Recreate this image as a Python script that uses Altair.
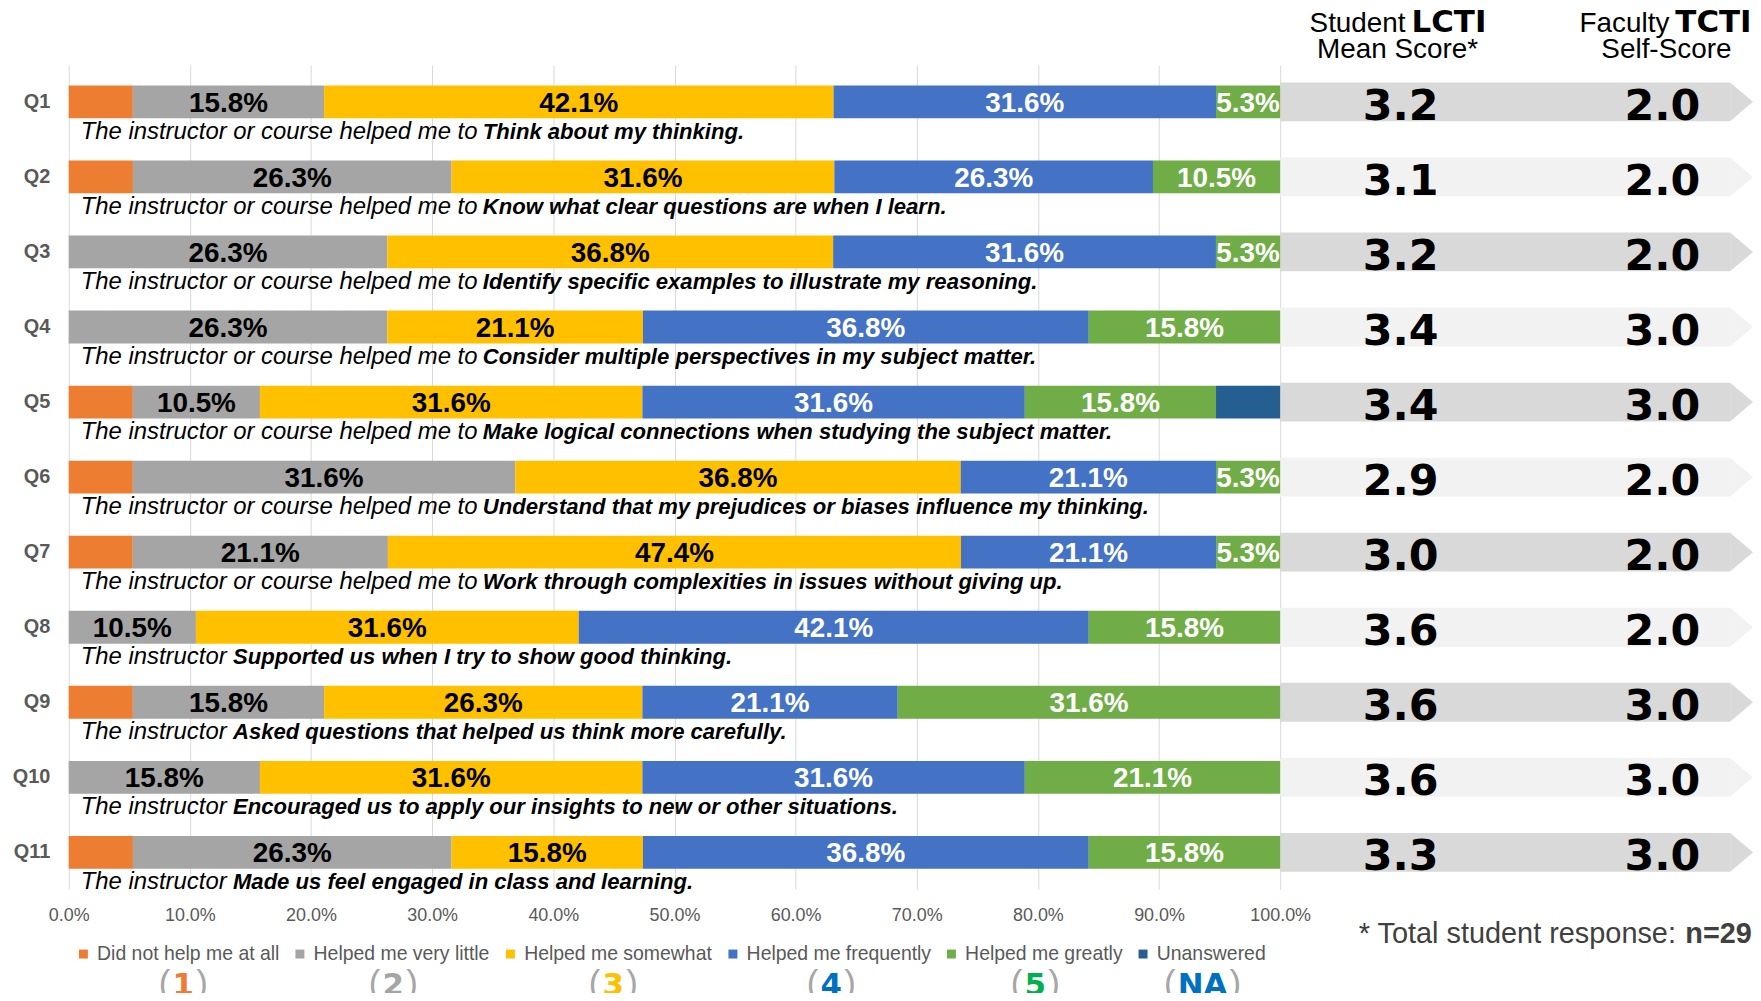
import altair as alt
import pandas as pd

# ---------------- data ----------------
questions = [f"Q{i}" for i in range(1, 12)]
categories = ["Did not help me at all", "Helped me very little", "Helped me somewhat",
              "Helped me frequently", "Helped me greatly", "Unanswered"]
colors = ["#ED7D31", "#A5A5A5", "#FFC000", "#4472C4", "#70AD47", "#255E91"]

did_not_help = [5.3, 5.3, 0, 0, 5.3, 5.3, 5.3, 0, 5.3, 0, 5.3]
very_little = [15.8, 26.3, 26.3, 26.3, 10.5, 31.6, 21.1, 10.5, 15.8, 15.8, 26.3]
somewhat = [42.1, 31.6, 36.8, 21.1, 31.6, 36.8, 47.4, 31.6, 26.3, 31.6, 15.8]
frequently = [31.6, 26.3, 31.6, 36.8, 31.6, 21.1, 21.1, 42.1, 21.1, 31.6, 36.8]
greatly = [5.3, 10.5, 5.3, 15.8, 15.8, 5.3, 5.3, 15.8, 31.6, 21.1, 15.8]
unanswered = [0, 0, 0, 0, 5.3, 0, 0, 0, 0, 0, 0]

lcti = [3.2, 3.1, 3.2, 3.4, 3.4, 2.9, 3.0, 3.6, 3.6, 3.6, 3.3]
tcti = [2.0, 2.0, 2.0, 3.0, 3.0, 2.0, 2.0, 2.0, 3.0, 3.0, 3.0]

prefix_long = "The instructor or course helped me to "
prefix_short = "The instructor "
prefixes = [prefix_long] * 7 + [prefix_short] * 4
phrases = [
    "Think about my thinking.",
    "Know what clear questions are when I learn.",
    "Identify specific examples to illustrate my reasoning.",
    "Consider multiple perspectives in my subject matter.",
    "Make logical connections when studying the subject matter.",
    "Understand that my prejudices or biases influence my thinking.",
    "Work through complexities in issues without giving up.",
    "Supported us when I try to show good thinking.",
    "Asked questions that helped us think more carefully.",
    "Encouraged us to apply our insights to new or other situations.",
    "Made us feel engaged in class and learning.",
]

scale_nums = ["1", "2", "3", "4", "5", "NA"]
scale_num_colors = ["#ED7D31", "#A5A5A5", "#FFC000", "#0070C0", "#00B050", "#0070C0"]

series = [did_not_help, very_little, somewhat, frequently, greatly, unanswered]
rows = []
for i, q in enumerate(questions):
    for j, cat in enumerate(categories):
        v = series[j][i]
        rows.append({"q": q, "cat": cat, "order": j, "pct": v, "label": f"{v:.1f}%"})
df = pd.DataFrame(rows)

qdf = pd.DataFrame({
    "q": questions, "idx": list(range(len(questions))), "lcti": lcti, "tcti": tcti,
    "prefix": prefixes, "phrase": phrases,
    "kind": ["long" if p == prefix_long else "short" for p in prefixes],
})

# ---------------- layout ----------------
UNIT = 1217          # px for 100 %
W = 1692             # plot width (incl. the score panel)
H = 828
D = W / UNIT

FONT = "Liberation Sans"
GRAY_TXT = "#595959"

y_enc = alt.Y("q:N", sort=questions,
              scale=alt.Scale(domain=questions, paddingInner=0.5623, paddingOuter=0.272),
              axis=alt.Axis(title=None, domain=False, ticks=False, labelFontSize=20,
                            labelFontWeight="bold", labelColor=GRAY_TXT, labelFont=FONT,
                            labelPadding=19))

base = alt.Chart(df).transform_stack(
    stack="pct", groupby=["q"], as_=["x0", "x1"], offset="normalize",
    sort=[alt.SortField("order", order="ascending")]
).transform_calculate(mid="(datum.x0 + datum.x1) / 2")

bars = base.mark_bar().encode(
    y=y_enc,
    x=alt.X("x0:Q", scale=alt.Scale(domain=[0, D], nice=False, zero=True),
            axis=alt.Axis(values=[i / 10 for i in range(11)], format=".1%", title=None,
                          grid=True, gridColor="#D9D9D9", domain=False, ticks=False,
                          labelFontSize=18, labelColor=GRAY_TXT, labelFont=FONT,
                          labelPadding=17, labelFlush=False)),
    x2="x1:Q",
    color=alt.Color("cat:N", scale=alt.Scale(domain=categories, range=colors),
                    legend=alt.Legend(orient="none", legendX=5, legendY=883,
                                      direction="horizontal", title=None,
                                      symbolType="square", symbolSize=81,
                                      symbolStrokeWidth=0, labelFontSize=19.5,
                                      labelColor=GRAY_TXT, labelFont=FONT,
                                      columnPadding=10.5, labelOffset=4, padding=0,
                                      labelLimit=400)),
)

lbl_style = dict(font=FONT, fontWeight="bold", fontSize=28, baseline="middle", dy=2)
dark_lbl = base.transform_filter(
    alt.FieldOneOfPredicate(field="cat", oneOf=["Helped me very little", "Helped me somewhat"])
).transform_filter("datum.pct > 0").mark_text(color="black", **lbl_style).encode(
    y="q:N", x="mid:Q", text="label:N")
light_lbl = base.transform_filter(
    alt.FieldOneOfPredicate(field="cat", oneOf=["Helped me frequently", "Helped me greatly"])
).transform_filter("datum.pct > 0").mark_text(color="white", **lbl_style).encode(
    y="q:N", x="mid:Q", text="label:N")

qbase = alt.Chart(qdf)
shade = alt.condition("datum.idx % 2 == 0", alt.value("#D9D9D9"), alt.value("#F2F2F2"))
arrow_body = qbase.mark_bar(size=39).encode(
    y="q:N", x=alt.value(UNIT), x2=alt.value(1669), color=shade)
arrow_tip = qbase.mark_point(shape="M-0.59,-1L0.59,0L-0.59,1Z", size=1521, filled=True,
                             opacity=1, strokeWidth=0).encode(
    y="q:N", x=alt.value(1680.5), color=shade)

score_style = dict(font="DejaVu Sans", fontWeight="bold", fontSize=43,
                   baseline="alphabetic", dy=18, align="center", color="black")
lcti_txt = qbase.mark_text(**score_style).encode(
    y="q:N", x=alt.value(1338), text=alt.Text("lcti:Q", format=".1f"))
tcti_txt = qbase.mark_text(**score_style).encode(
    y="q:N", x=alt.value(1601), text=alt.Text("tcti:Q", format=".1f"))

sent_style = dict(font=FONT, fontStyle="italic", fontSize=24, baseline="alphabetic",
                  dy=37, align="left", color="black")
bold_style = dict(sent_style, fontSize=22.2, fontWeight="bold")
prefix_txt = qbase.mark_text(**sent_style).encode(
    y="q:N", x=alt.value(12), text="prefix:N")
phrase_long = qbase.transform_filter("datum.kind == 'long'").mark_text(
    **bold_style).encode(y="q:N", x=alt.value(12 + 404), text="phrase:N")
phrase_short = qbase.transform_filter("datum.kind == 'short'").mark_text(
    **bold_style).encode(y="q:N", x=alt.value(12 + 153), text="phrase:N")


def label(text, x, y, **style):
    return alt.Chart(pd.DataFrame({"t": [text]})).mark_text(**style).encode(
        x=alt.value(x), y=alt.value(y), text="t:N")


hdr = dict(font=FONT, fontSize=28, baseline="alphabetic", color="black")
hdr_bold = dict(font="DejaVu Sans", fontWeight="bold", fontSize=31,
                baseline="alphabetic", color="black")
annos = [
    label("Student", 1343, -33, align="right", **hdr),
    label("LCTI", 1349, -33, align="left", **hdr_bold),
    label("Mean Score*", 1335, -7, align="center", **hdr),
    label("Faculty", 1608, -33, align="right", **hdr),
    label("TCTI", 1614, -33, align="left", **hdr_bold),
    label("Self-Score", 1605, -7, align="center", **hdr),
    label("* Total student response:", 1296, 882, align="left", font=FONT,
          fontSize=29, baseline="alphabetic", color="#404040"),
    label("n=29", 1624, 882, align="left", font=FONT, fontSize=29,
          fontWeight="bold", baseline="alphabetic", color="#404040"),
]

num_x = [115, 326, 547, 766, 971, 1139]
for t, c, cx in zip(scale_nums, scale_num_colors, num_x):
    half = 25 if len(t) > 1 else 11
    annos.append(label(t, cx, 934, align="center", font="DejaVu Sans", fontWeight="bold",
                       fontSize=31, baseline="alphabetic", color=c))
    annos.append(label("(", cx - half - 2, 934, align="right", font=FONT, fontSize=35,
                       baseline="alphabetic", color="#A6A6A6"))
    annos.append(label(")", cx + half + 2, 934, align="left", font=FONT, fontSize=35,
                       baseline="alphabetic", color="#A6A6A6"))

chart = alt.layer(
    arrow_body, arrow_tip, bars, dark_lbl, light_lbl, lcti_txt, tcti_txt,
    prefix_txt, phrase_long, phrase_short, *annos
).properties(
    width=W, height=H,
    autosize=alt.AutoSizeParams(type="none"),
    padding={"left": 61, "top": 55, "right": 0, "bottom": 102},
    background="white",
).configure_view(stroke=None)

chart.save("out.html", embed_options={"renderer": "svg", "actions": False})
